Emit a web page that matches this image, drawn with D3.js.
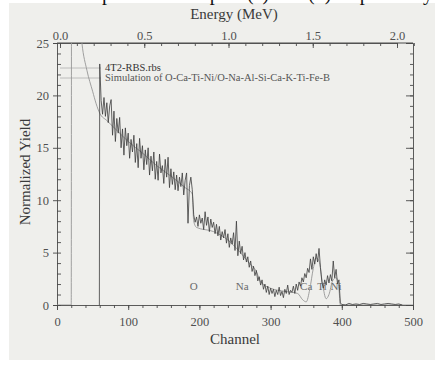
<!DOCTYPE html>
<html>
<head>
<meta charset="utf-8">
<script src="https://cdn.jsdelivr.net/npm/d3@7"></script>
<style>
  html, body { margin: 0; padding: 0; background: #ffffff; }
  #chart { width: 435px; height: 372px; }
</style>
</head>
<body>
<div id="chart"></div>
<script>
// measured spectrum: [channel, normalized yield]
const measured = [
  [59.5, 0], [60, 23], [62, 19.5], [64, 18.2], [66, 19.8], [68, 18.0], [70, 19.3], [72, 17.4],
  [74, 19.0], [76, 19.6], [78, 16.2], [80, 18.5], [82, 15.6], [84, 17.8], [86, 16.4], [88, 17.9],
  [90, 15.0], [92, 16.8], [94, 14.3], [96, 16.9], [98, 15.2], [100, 16.4], [102, 14.0], [104, 15.8],
  [106, 14.6], [108, 16.2], [110, 13.6], [112, 15.4], [114, 13.1], [116, 15.9], [118, 14.0], [120, 15.2],
  [122, 12.9], [124, 14.8], [126, 13.4], [128, 15.0], [130, 12.4], [132, 14.2], [134, 12.8], [136, 14.6],
  [138, 12.0], [140, 13.7], [142, 11.9], [144, 14.4], [146, 12.6], [148, 13.3], [150, 11.6], [152, 13.9],
  [154, 12.2], [156, 14.1], [158, 11.2], [160, 13.0], [162, 11.5], [164, 12.7], [166, 11.0], [168, 12.4],
  [170, 10.9], [172, 12.2], [174, 11.3], [176, 12.6], [178, 10.5], [180, 11.9], [182, 12.6], [184, 7.8],
  [186, 11.4], [188, 12.2], [190, 11.0], [192, 8.6], [194, 7.9], [196, 8.4], [198, 7.5], [200, 8.6],
  [202, 7.8], [204, 8.3], [206, 7.2], [208, 8.9], [210, 7.6], [212, 8.4], [214, 7.0], [216, 8.2],
  [218, 7.4], [220, 7.9], [222, 6.8], [224, 7.7], [226, 6.6], [228, 7.5], [230, 6.2], [232, 7.0],
  [234, 6.4], [236, 7.2], [238, 5.9], [240, 6.8], [242, 5.5], [244, 6.4], [246, 5.8], [248, 6.9],
  [250, 5.2], [252, 8.0], [254, 4.7], [256, 6.1], [258, 4.9], [260, 5.6], [262, 4.3], [264, 5.0],
  [266, 4.1], [268, 4.6], [270, 3.6], [272, 4.2], [274, 3.2], [276, 3.7], [278, 2.8], [280, 3.3],
  [282, 2.3], [284, 2.7], [286, 1.9], [288, 2.4], [290, 1.5], [292, 2.0], [294, 1.2], [296, 1.8],
  [298, 1.0], [300, 1.6], [302, 1.1], [304, 1.5], [306, 0.8], [308, 1.4], [310, 1.0], [312, 1.7],
  [314, 0.9], [316, 1.3], [318, 0.7], [320, 1.5], [322, 1.1], [324, 1.9], [326, 1.0], [328, 1.4],
  [330, 1.2], [332, 1.8], [334, 1.1], [336, 2.0], [338, 1.4], [340, 2.2], [342, 1.8], [344, 2.6],
  [346, 2.2], [348, 3.0], [350, 2.6], [352, 3.5], [354, 3.1], [356, 4.4], [358, 3.4], [360, 4.6],
  [362, 3.9], [364, 4.9], [366, 4.1], [368, 5.4], [370, 3.6], [372, 2.2], [374, 1.6], [376, 2.4],
  [378, 1.9], [380, 2.8], [382, 2.1], [384, 2.9], [386, 2.3], [388, 4.2], [390, 2.6], [392, 3.4],
  [394, 2.0], [396, 2.4], [398, 0.2], [400, 0.05], [405, 0.0], [410, 0.15], [415, 0.05], [420, 0.1],
  [425, 0.05], [430, 0.15], [435, 0.1], [440, 0.05], [445, 0.1], [450, 0.15], [455, 0.05], [460, 0.1],
  [465, 0.15], [470, 0.1], [475, 0.05], [480, 0.1], [485, 0.0]
];

// simulated spectrum: [channel, normalized yield]
const simulated = [
  [0, 0], [20, 0], [20.5, 40], [30, 29], [35, 25], [42, 22.4], [50, 20.4], [55, 19.2], [60, 18.3],
  [70, 17.6], [85, 16.6], [100, 15.6], [120, 14.5], [140, 13.3], [160, 12.3], [180, 11.2],
  [190, 10.6], [192, 8.0], [196, 7.4], [220, 7.0], [240, 6.2], [255, 5.2], [270, 4.0], [280, 3.2],
  [286, 2.2], [300, 1.6], [320, 1.3], [338, 1.1], [345, 0.5], [350, 0.3], [355, 1.5], [360, 3.5],
  [364, 4.5], [368, 4.2], [373, 2.0], [378, 0.6], [382, 1.0], [387, 2.3], [392, 2.6], [396, 1.5],
  [398, 0], [500, 0]
];

const elementNames = ["O", "Na", "Ca", "Ti", "Ni"];
const elementChannels = [192, 260, 350, 372, 392];

const channelTicks = [0, 100, 200, 300, 400, 500];
const yieldTicks = [0, 5, 10, 15, 20, 25];
const energyTicks = [0.0, 0.5, 1.0, 1.5, 2.0];

const legendLabels = ["4T2-RBS.rbs", "Simulation of O-Ca-Ti-Ni/O-Na-Al-Si-Ca-K-Ti-Fe-B"];

const colorPalette = {
  paper: "#efefec",
  axis: "#4a4a4a",
  text: "#3a3a3a",
  measured: "#3c3c3c",
  simulated: "#959595",
  element: "#6a6a6a",
};

const config = {
  left: 57, right: 413, top: 43, bottom: 305,
  font: "'Liberation Serif', 'DejaVu Serif', serif",
};

const svg = d3.select("#chart")
  .append("svg")
  .attr("width", 435)
  .attr("height", 372);

// scanned page background
svg.append("rect")
  .attr("x", 9).attr("y", 3)
  .attr("width", 426).attr("height", 357)
  .attr("fill", colorPalette.paper);

// caption of the page, cut at the top edge
svg.append("text")
  .text("RBS spectra of samples (a) and (b) respectively")
  .attr("x", 433).attr("y", 0)
  .attr("text-anchor", "end")
  .style("font-family", config.font)
  .style("font-size", "20px")
  .style("fill", "#111");

const x = d3.scaleLinear().domain([0, 500]).range([config.left, config.right]);
const y = d3.scaleLinear().domain([0, 25]).range([config.bottom, config.top]);
const energy = d3.scaleLinear().domain([0, 2]).range([60, 397]);

svg.append("defs").append("clipPath").attr("id", "plot-clip")
  .append("rect")
  .attr("x", config.left).attr("y", config.top)
  .attr("width", config.right - config.left)
  .attr("height", config.bottom - config.top);

// bottom axis (channel)
svg.append("g")
  .attr("class", "xAxis")
  .attr("transform", `translate(0,${config.bottom})`)
  .call(d3.axisBottom(x).tickValues(channelTicks).tickSize(5).tickPadding(7).tickFormat(d3.format("d")));
svg.append("g")
  .attr("transform", `translate(0,${config.bottom})`)
  .call(d3.axisBottom(x).tickValues(d3.range(0, 501, 20)).tickSize(3).tickFormat(""))
  .call((g) => g.select(".domain").remove());

// top axis (energy), ticks inside
svg.append("g")
  .attr("class", "eAxis")
  .attr("transform", `translate(0,${config.top})`)
  .call(d3.axisTop(energy).tickValues(energyTicks).tickSizeInner(-5).tickSizeOuter(0).tickPadding(3).tickFormat(d3.format(".1f")));
svg.append("g")
  .attr("transform", `translate(0,${config.top})`)
  .call(d3.axisTop(energy).tickValues(d3.range(0, 2.11, 0.1)).tickSizeInner(-3).tickFormat(""))
  .call((g) => g.select(".domain").remove());
svg.append("line")
  .attr("x1", config.left).attr("x2", config.right)
  .attr("y1", config.top).attr("y2", config.top)
  .attr("stroke", colorPalette.axis);

// left axis
svg.append("g")
  .attr("class", "yAxis")
  .attr("transform", `translate(${config.left},0)`)
  .call(d3.axisLeft(y).tickValues(yieldTicks).tickSize(4).tickPadding(4).tickFormat(d3.format("d")));
svg.append("g")
  .attr("transform", `translate(${config.left},0)`)
  .call(d3.axisLeft(y).tickValues(d3.range(0, 26, 1)).tickSize(-4).tickFormat(""))
  .call((g) => g.select(".domain").remove());

// right axis, no labels
svg.append("g")
  .attr("transform", `translate(${config.right},0)`)
  .call(d3.axisLeft(y).tickValues(yieldTicks).tickSize(7).tickFormat(""));
svg.append("g")
  .attr("transform", `translate(${config.right},0)`)
  .call(d3.axisLeft(y).tickValues(d3.range(0, 26, 1)).tickSize(3).tickFormat(""))
  .call((g) => g.select(".domain").remove());

svg.selectAll(".domain, .tick line")
  .attr("stroke", colorPalette.axis)
  .attr("stroke-width", 0.9);
svg.selectAll(".tick text")
  .style("font-family", config.font)
  .style("font-size", "12.5px")
  .style("fill", "#505050");

// axis titles
svg.append("text")
  .text("Energy (MeV)")
  .attr("x", 234).attr("y", 19)
  .attr("text-anchor", "middle")
  .style("font-family", config.font)
  .style("font-size", "15px")
  .style("fill", colorPalette.text);

svg.append("text")
  .text("Channel")
  .attr("x", 235).attr("y", 344)
  .attr("text-anchor", "middle")
  .style("font-family", config.font)
  .style("font-size", "15px")
  .style("fill", colorPalette.text);

svg.append("text")
  .text("Normalized Yield")
  .attr("transform", "translate(30,172) rotate(-90)")
  .attr("text-anchor", "middle")
  .style("font-family", config.font)
  .style("font-size", "15px")
  .style("fill", colorPalette.text);

// element markers
svg.selectAll(".element")
  .data(elementNames)
  .enter()
  .append("text")
  .attr("class", "element")
  .text((d) => d)
  .attr("x", (d, i) => x(elementChannels[i]))
  .attr("y", y(1.4))
  .attr("text-anchor", "middle")
  .style("font-family", config.font)
  .style("font-size", "11px")
  .style("fill", colorPalette.element);

// legend
legendLabels.forEach((label, i) => {
  svg.append("line")
    .attr("x1", config.left + 3).attr("x2", 101)
    .attr("y1", 68 + i * 10).attr("y2", 68 + i * 10)
    .attr("stroke", "#b0b0b0")
    .attr("stroke-width", 0.8);
  svg.append("text")
    .text(label)
    .attr("x", 105).attr("y", 71 + i * 10)
    .style("font-family", config.font)
    .style("font-size", "10.5px")
    .style("fill", i === 0 ? "#333" : "#555");
});

const line = d3.line()
  .x((d) => x(d[0]))
  .y((d) => y(d[1]));

const plot = svg.append("g").attr("clip-path", "url(#plot-clip)");

plot.append("path")
  .datum(simulated)
  .attr("d", line.curve(d3.curveMonotoneX))
  .attr("fill", "none")
  .attr("stroke", colorPalette.simulated)
  .attr("stroke-width", 0.9);

plot.append("path")
  .datum(measured)
  .attr("d", line.curve(d3.curveLinear))
  .attr("fill", "none")
  .attr("stroke", colorPalette.measured)
  .attr("stroke-width", 0.8);
</script>
</body>
</html>
